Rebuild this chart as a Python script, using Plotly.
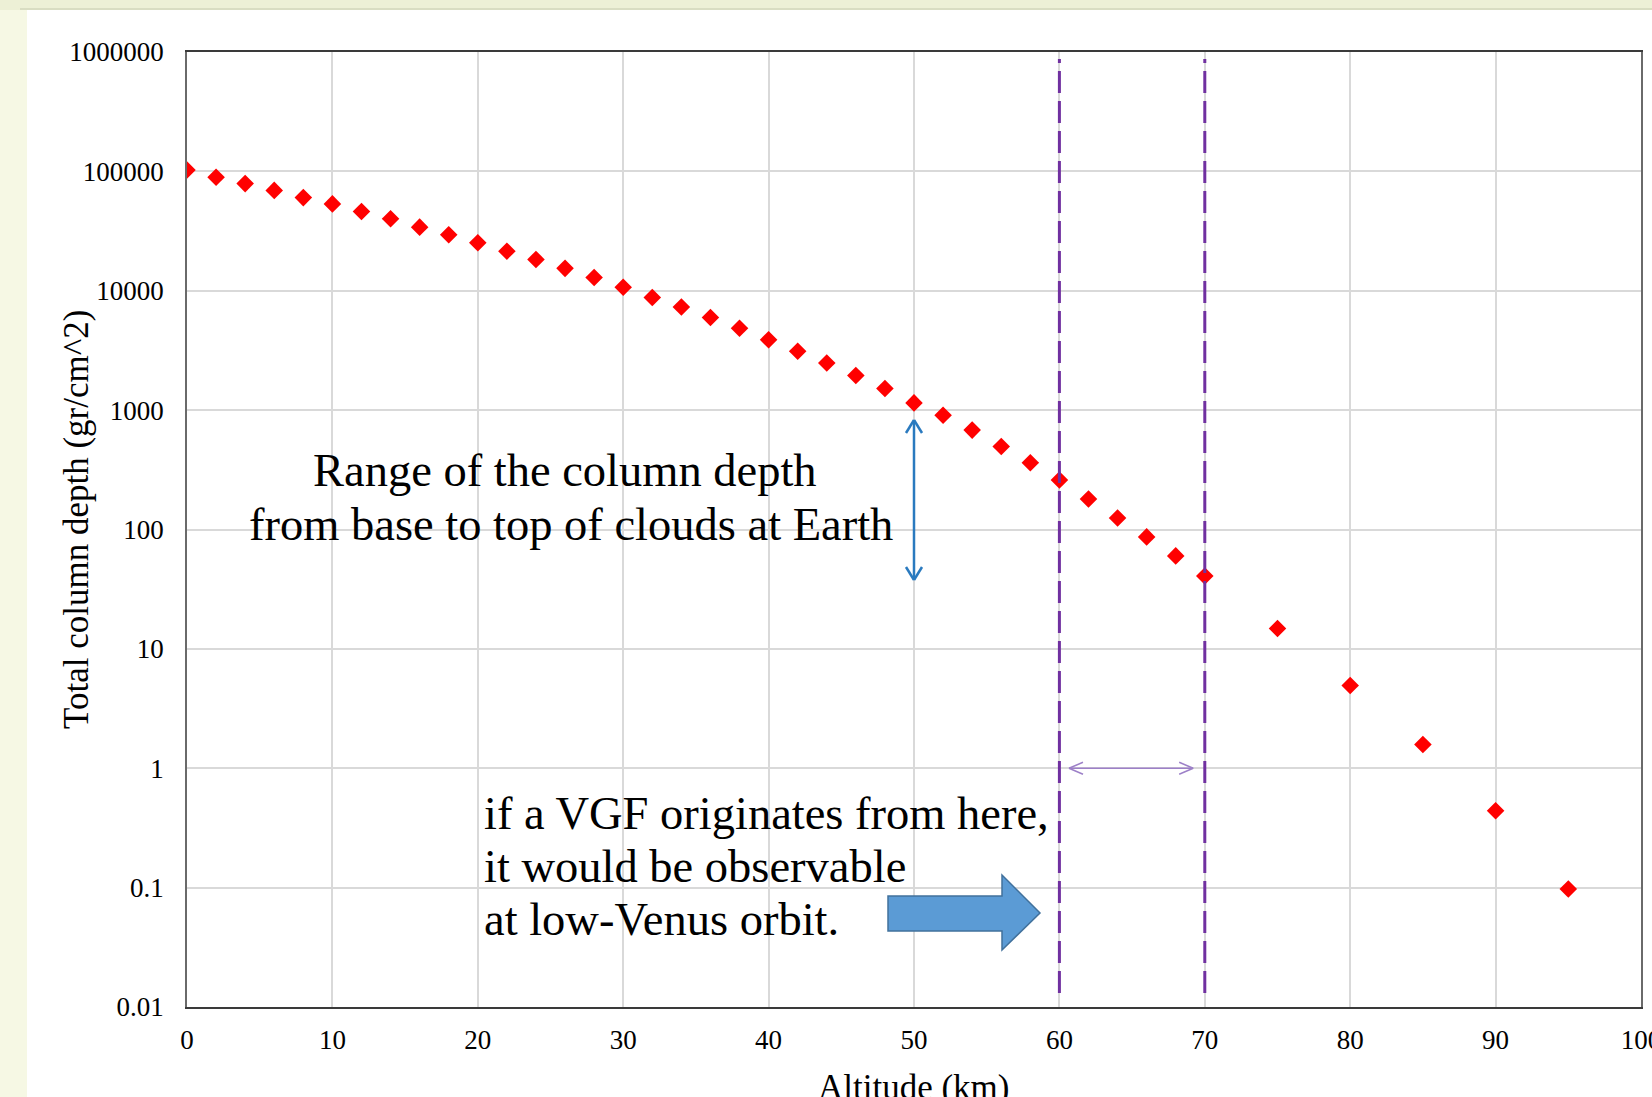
import math
import plotly.graph_objects as go

# ---------------- data ----------------
altitude_km = [0, 2, 4, 6, 8, 10, 12, 14, 16, 18, 20, 22, 24, 26, 28, 30, 32, 34, 36, 38,
               40, 42, 44, 46, 48, 50, 52, 54, 56, 58, 60, 62, 64, 66, 68, 70, 75, 80, 85, 90, 95]
column_depth = [102700, 89200, 79000, 69300, 60300, 53400, 46100, 40100, 34100, 29500,
                25200, 21450, 18300, 15400, 12900, 10700, 8770, 7300, 5960, 4860,
                3890, 3110, 2480, 1950, 1520, 1150, 905, 680, 496, 362,
                260, 180, 125, 86.7, 60.1, 40.8, 14.8, 4.93, 1.58, 0.44, 0.0975]

x_ticks = [0, 10, 20, 30, 40, 50, 60, 70, 80, 90, 100]
y_ticks = [0.01, 0.1, 1, 10, 100, 1000, 10000, 100000, 1000000]
y_tick_text = ["0.01", "0.1", "1", "10", "100", "1000", "10000", "100000", "1000000"]

cloud_layer_km = [60, 70]

# ---------------- layout geometry ----------------
W, H = 1652, 1097
ML, MR, MT, MB = 187, 11, 52, 90
PW, PH = W - ML - MR, H - MT - MB
Y_LOG_MIN, Y_LOG_MAX = -2, 6

def px_x(p):   # pixel -> paper x
    return (p - ML) / PW

def px_y(p):   # pixel -> paper y
    return 1 - (p - MT) / PH

def val_y(v):  # data value on log axis -> paper y
    return (math.log10(v) - Y_LOG_MIN) / (Y_LOG_MAX - Y_LOG_MIN)

FONT = "Liberation Serif, Times New Roman, serif"

fig = go.Figure()
fig.add_trace(go.Scatter(
    x=altitude_km, y=column_depth, mode="markers",
    marker=dict(symbol="diamond", size=13.5, color="#ff0000", line=dict(width=0)),
    showlegend=False, hoverinfo="x+y",
))

shapes = []
# background panels
shapes.append(dict(type="rect", xref="paper", yref="paper", layer="below",
                   x0=px_x(0), x1=px_x(W + 5), y0=px_y(0), y1=px_y(10),
                   fillcolor="#edf0d6", line=dict(width=0)))
shapes.append(dict(type="rect", xref="paper", yref="paper", layer="below",
                   x0=px_x(27), x1=px_x(W + 5), y0=px_y(10), y1=px_y(H + 5),
                   fillcolor="#ffffff", line=dict(width=0)))
shapes.append(dict(type="line", xref="paper", yref="paper", layer="below",
                   x0=px_x(20), x1=px_x(W + 5), y0=px_y(9), y1=px_y(9),
                   line=dict(color="#d9ddc2", width=2)))

# dashed vertical lines
for xv in cloud_layer_km:
    shapes.append(dict(type="line", xref="x", yref="paper",
                       x0=xv, x1=xv, y0=px_y(993), y1=px_y(59),
                       line=dict(color="#7030a0", width=3, dash="22px,8px")))

# blue vertical double arrow at 50 km
BLUE = "#2a7abf"
yt, yb = px_y(420), px_y(580)
shapes.append(dict(type="line", xref="x", yref="paper", x0=50, x1=50, y0=yb, y1=yt,
                   line=dict(color=BLUE, width=2.5)))
for anchor, dy in ((yt, -13), (yb, 13)):
    for dx in (-8, 8):
        shapes.append(dict(type="line", xref="x", yref="paper",
                           xsizemode="pixel", ysizemode="pixel",
                           xanchor=50, yanchor=anchor,
                           x0=0, y0=0, x1=dx, y1=dy,
                           line=dict(color=BLUE, width=2.5)))

# purple horizontal double arrow at y = 1
PURPLE = "#9d80c8"
xl, xr = 60.66, 69.2
ya = val_y(1)
shapes.append(dict(type="line", xref="x", yref="paper", x0=xl, x1=xr, y0=ya, y1=ya,
                   line=dict(color=PURPLE, width=1.5)))
for anchor, dx in ((xl, 14), (xr, -14)):
    for dy in (-6, 6):
        shapes.append(dict(type="line", xref="x", yref="paper",
                           xsizemode="pixel", ysizemode="pixel",
                           xanchor=anchor, yanchor=ya,
                           x0=0, y0=0, x1=dx, y1=dy,
                           line=dict(color=PURPLE, width=1.5)))

# block arrow
bx = lambda p: (p - ML) / (PW / 100.0)
path = (f"M {bx(888)},{px_y(896)} L {bx(1002)},{px_y(896)} L {bx(1002)},{px_y(875)} "
        f"L {bx(1040)},{px_y(913)} L {bx(1002)},{px_y(950)} L {bx(1002)},{px_y(931)} "
        f"L {bx(888)},{px_y(931)} Z")
shapes.append(dict(type="path", xref="x", yref="paper", path=path,
                   fillcolor="#5b9bd5", line=dict(color="#41719c", width=1.5)))

annotations = []
def txt(text, x, y, xanchor, size=46.5, xref="x", textangle=0):
    annotations.append(dict(text=text, x=x, y=y, xref=xref, yref="paper",
                            xanchor=xanchor, yanchor="middle", showarrow=False,
                            textangle=textangle,
                            font=dict(family=FONT, size=size, color="#000000")))

txt("Range of the column depth", bx(565), px_y(471), "center")
txt("from base to top of clouds at Earth", bx(571), px_y(524), "center")
txt("if a VGF originates from here,", bx(482), px_y(813), "left")
txt("it would be observable", bx(482), px_y(866), "left")
txt("at low-Venus orbit.", bx(482), px_y(919), "left")
# axis titles
txt("Total column depth (gr/cm^2)", px_x(76), px_y(520), "center", size=35,
    xref="paper", textangle=-90)
txt("Altitude (km)", 0.5, px_y(1087), "center", size=35, xref="paper")

fig.update_layout(
    width=W, height=H, autosize=False,
    margin=dict(l=ML, r=MR, t=MT, b=MB, pad=0),
    paper_bgcolor="#f6f8e4", plot_bgcolor="#ffffff",
    font=dict(family=FONT, color="#000000"),
    shapes=shapes, annotations=annotations,
    showlegend=False,
)
fig.update_xaxes(
    range=[0, 100], tickvals=x_ticks, ticks="", ticklabelstandoff=8,
    ticklabeloverflow="allow", automargin=False,
    tickfont=dict(family=FONT, size=27, color="#000000"),
    showgrid=True, gridcolor="#d9d9d9", gridwidth=1.5,
    showline=True, linecolor="#3a3a3a", linewidth=1.5, mirror=True,
    zeroline=False,
)
fig.update_yaxes(
    type="log", range=[Y_LOG_MIN, Y_LOG_MAX], tickvals=y_ticks, ticktext=y_tick_text,
    ticks="", ticklabelstandoff=16, ticklabeloverflow="allow", automargin=False,
    tickfont=dict(family=FONT, size=27, color="#000000"),
    showgrid=True, gridcolor="#d9d9d9", gridwidth=1.5,
    showline=True, linecolor="#6a6a6a", linewidth=1.5, mirror=True,
    zeroline=False,
)

fig.write_html(
    "out.html",
    config={"displayModeBar": False},
    post_script="document.body.style.margin='0';document.body.style.background='#f6f8e4';",
)
